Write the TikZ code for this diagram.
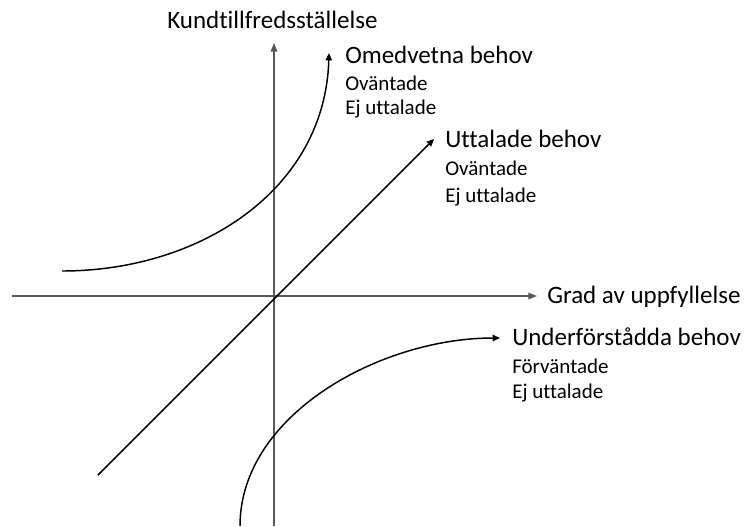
\documentclass[tikz,border=0pt]{standalone}
\usepackage{fontspec}
\setmainfont{Carlito}[Ligatures={NoCommon,NoContextual}]
\usetikzlibrary{arrows.meta}
\definecolor{axisgray}{HTML}{595959}
\tikzset{
  axisline/.style={draw=axisgray, line width=0.8pt, -{Triangle[length=6.5pt,width=5pt]}},
  curveline/.style={draw=black, line width=1.1pt, -{Triangle[length=5.5pt,width=4.8pt]}},
  mainlbl/.style={anchor=base west, inner sep=0pt, font=\fontsize{18.75}{22}\selectfont},
  sublbl/.style={anchor=base west, inner sep=0pt, font=\fontsize{15.75}{19}\selectfont},
}
\begin{document}
\begin{tikzpicture}[x=0.75pt,y=-0.75pt]
\useasboundingbox (0,0) rectangle (747,526);
% axes
\coordinate (hstart) at (12,296);
\coordinate (hend) at (537,296);
\coordinate (vstart) at (274,526);
\coordinate (vend) at (274,43);
\draw[axisline] (hstart) -- (hend);
\draw[axisline] (vstart) -- (vend);
% labels
\node[mainlbl] (ylabel) at (167,28) {Kundtillfredsställelse};
\node[mainlbl] (xlabel) at (547,303) {Grad av uppfyllelse};
\node[mainlbl] (om) at (345,63) {Omedvetna behov};
\node[sublbl] (om1) at (345,90) {Oväntade};
\node[sublbl] (om2) at (345,114) {Ej uttalade};
\node[mainlbl] (ut) at (445,147) {Uttalade behov};
\node[sublbl] (ut1) at (445,175) {Oväntade};
\node[sublbl] (ut2) at (445,202) {Ej uttalade};
\node[mainlbl] (un) at (512,345) {Underförstådda behov};
\node[sublbl] (un1) at (512,373) {Förväntade};
\node[sublbl] (un2) at (512,398) {Ej uttalade};
% curves
\coordinate (omS) at (62,271);
\coordinate (omE) at (329,53);
\draw[curveline] (omS) .. controls (200,271) and (325,190) .. (omE);
\coordinate (utS) at (98,475);
\coordinate (utE) at (434,139);
\draw[curveline] (utS) -- (utE);
\coordinate (unS) at (240,526);
\coordinate (unE) at (500,338);
\draw[curveline] (unS) .. controls (240,415) and (380,338) .. (unE);
\end{tikzpicture}
\end{document}
